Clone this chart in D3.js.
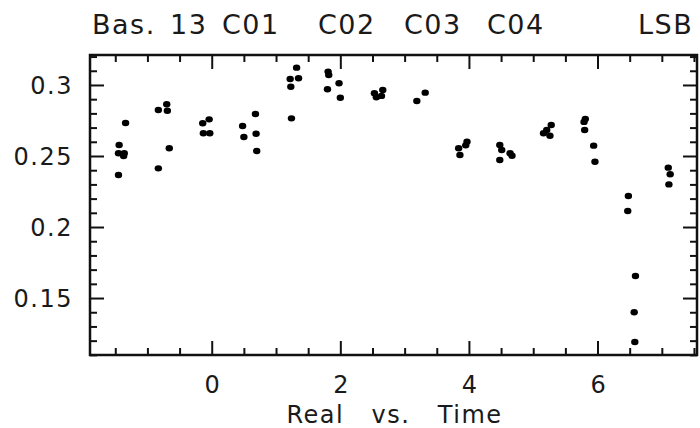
<!DOCTYPE html>
<html>
<head>
<meta charset="utf-8">
<script src="https://cdn.jsdelivr.net/npm/d3@7"></script>
<style>
  body { margin: 0; background: #fff; }
  text { font-family: "DejaVu Sans", sans-serif; fill: #1a1a1a; }
</style>
</head>
<body>
<div id="chart"></div>
<script>
// time (x) and real (y) values
var timeVals = [
  -1.44, -1.45, -1.36, -1.37, -1.45, -1.34,
  -0.83, -0.70, -0.69, -0.66, -0.83,
  -0.14, -0.04, -0.13, -0.03,
  0.48, 0.50, 0.68, 0.69, 0.70,
  1.32, 1.22, 1.35, 1.23, 1.24,
  1.81, 1.82, 1.98, 1.80, 2.00,
  2.53, 2.66, 2.56, 2.64,
  3.19, 3.32,
  3.84, 3.86, 3.97, 3.95,
  4.48, 4.51, 4.64, 4.48, 4.67,
  5.16, 5.21, 5.28, 5.26,
  5.81, 5.79, 5.80, 5.94, 5.96,
  6.48, 6.47, 6.59, 6.57, 6.58,
  7.10, 7.13, 7.11
];
var realVals = [
  0.2577, 0.2519, 0.2519, 0.2500, 0.2366, 0.2732,
  0.2824, 0.2864, 0.2819, 0.2554, 0.2413,
  0.2730, 0.2758, 0.2660, 0.2660,
  0.2711, 0.2634, 0.2796, 0.2657, 0.2535,
  0.3122, 0.3042, 0.3047, 0.2988, 0.2765,
  0.3094, 0.3070, 0.3012, 0.2970, 0.2910,
  0.2942, 0.2965, 0.2913, 0.2923,
  0.2887, 0.2946,
  0.2554, 0.2507, 0.2600, 0.2575,
  0.2577, 0.2542, 0.2519, 0.2472, 0.2502,
  0.2660, 0.2683, 0.2718, 0.2643,
  0.2760, 0.2740, 0.2683, 0.2573, 0.2460,
  0.2218, 0.2113, 0.1655, 0.1400, 0.1190,
  0.2418, 0.2371, 0.2300
];
var yTickLabels = [0.15, 0.2, 0.25, 0.3];
var xTickLabels = [0, 2, 4, 6];
var titleWords = ["Bas.", "13", "C01", "C02", "C03", "C04", "LSB"];
var titleX = [92, 170, 222, 318, 404, 487, 638];

function drawChart() {
  var W = 700, H = 428;
  var mLeft = 90, mRight = 697, mTop = 55, mBottom = 355;

  var svg = d3.select("#chart").append("svg").attr("width", W).attr("height", H);

  var x = d3.scaleLinear().domain([-1.893, 7.547]).range([mLeft, mRight]);
  var y = d3.scaleLinear().domain([0.1099, 0.3211]).range([mBottom, mTop]);

  var xMinor = d3.range(-1.5, 7.51, 0.5).filter(function (v) { return Math.abs(v % 2) > 1e-6; });
  var yMinor = d3.range(0.11, 0.321, 0.01).filter(function (v) { return Math.round(v * 100) % 5 !== 0; });

  function drawAxis(axisGen, tx, ty) {
    var g = svg.append("g").attr("transform", "translate(" + tx + "," + ty + ")").call(axisGen);
    g.select(".domain").remove();
    g.selectAll("line").attr("stroke", "#111").attr("stroke-width", 2);
    return g;
  }

  // minor ticks
  drawAxis(d3.axisBottom(x).tickValues(xMinor).tickSize(-7).tickFormat(""), 0, mBottom);
  drawAxis(d3.axisTop(x).tickValues(xMinor).tickSize(-7).tickFormat(""), 0, mTop);
  drawAxis(d3.axisLeft(y).tickValues(yMinor).tickSize(-7).tickFormat(""), mLeft, 0);
  drawAxis(d3.axisRight(y).tickValues(yMinor).tickSize(-7).tickFormat(""), mRight, 0);

  // major ticks
  var xb = drawAxis(d3.axisBottom(x).tickValues(xTickLabels).tickSize(-14).tickFormat(d3.format("d")), 0, mBottom);
  drawAxis(d3.axisTop(x).tickValues(xTickLabels).tickSize(-14).tickFormat(""), 0, mTop);
  var yl = drawAxis(d3.axisLeft(y).tickValues(yTickLabels).tickSize(-14).tickFormat(function (d) { return String(d); }), mLeft, 0);
  drawAxis(d3.axisRight(y).tickValues(yTickLabels).tickSize(-14).tickFormat(""), mRight, 0);

  xb.selectAll("text").attr("font-size", 24).attr("font-family", "DejaVu Sans").attr("fill", "#1a1a1a")
    .attr("y", 38).attr("dy", 0);
  yl.selectAll("text").attr("font-size", 24).attr("font-family", "DejaVu Sans").attr("fill", "#1a1a1a")
    .attr("letter-spacing", 1.5)
    .attr("x", -17).attr("dy", "0.36em");

  // frame
  svg.append("rect")
    .attr("x", mLeft).attr("y", mTop)
    .attr("width", mRight - mLeft).attr("height", mBottom - mTop)
    .attr("fill", "none").attr("stroke", "#111").attr("stroke-width", 2.5);

  // points
  svg.append("g").selectAll("ellipse")
    .data(timeVals)
    .enter()
    .append("ellipse")
    .attr("cx", function (d) { return x(d); })
    .attr("cy", function (d, i) { return y(realVals[i]); })
    .attr("rx", 3.7)
    .attr("ry", 3.2)
    .attr("fill", "#000");

  // title words
  svg.append("g").selectAll("text")
    .data(titleWords)
    .enter()
    .append("text")
    .attr("x", function (d, i) { return titleX[i]; })
    .attr("y", 34)
    .attr("font-size", 27)
    .attr("letter-spacing", 1.5)
    .text(function (d) { return d; });

  // x label
  svg.append("text")
    .attr("x", (mLeft + mRight) / 2 + 1)
    .attr("y", 423)
    .attr("text-anchor", "middle")
    .attr("font-size", 24)
    .attr("letter-spacing", 1.5)
    .style("white-space", "pre")
    .text("Real   vs.   Time");
}

drawChart();
</script>
</body>
</html>
